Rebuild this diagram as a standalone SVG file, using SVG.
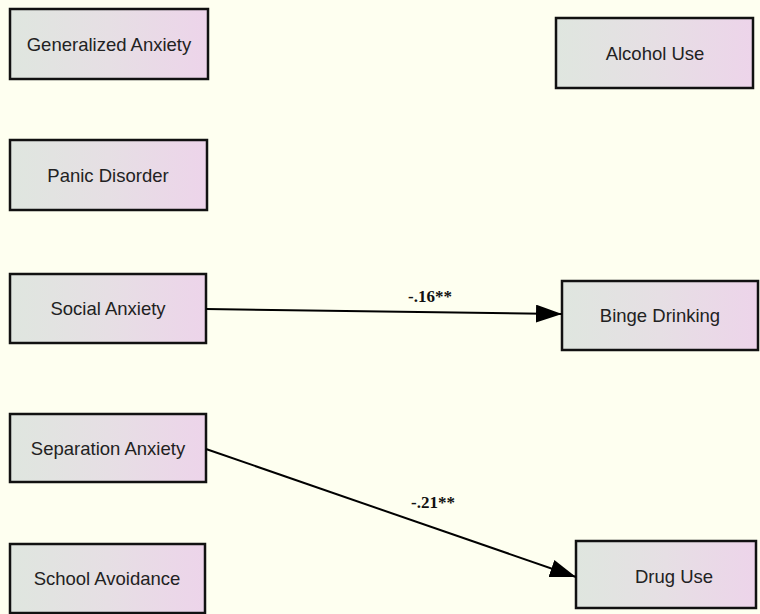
<svg xmlns="http://www.w3.org/2000/svg" width="760" height="614" viewBox="0 0 760 614">
<defs>
<linearGradient id="g" x1="0" y1="0" x2="1" y2="0">
<stop offset="0" stop-color="#dfe6df"/>
<stop offset="0.5" stop-color="#e6dfe4"/>
<stop offset="1" stop-color="#edd4ea"/>
</linearGradient>
<marker id="ah" markerWidth="26" markerHeight="18" refX="26" refY="9" orient="auto" markerUnits="userSpaceOnUse">
<path d="M0,0 L26,9 L0,18 Z" fill="#000"/>
</marker>
<style>
.box{fill:url(#g);stroke:#111;stroke-width:2.5}
.t{font-family:"Liberation Sans",Arial,sans-serif;font-size:18.5px;fill:#222;text-anchor:middle}
.lbl{font-family:"Liberation Serif","Times New Roman",serif;font-size:17px;font-weight:bold;fill:#111}
.c{stroke:#000;stroke-width:2;fill:none}
</style>
</defs>
<rect width="760" height="614" fill="#fefff0"/>
<g id="generalized-anxiety"><rect class="box" x="10" y="9" width="198" height="70"/><text class="t" x="109" y="51">Generalized Anxiety</text></g>
<g id="panic-disorder"><rect class="box" x="10" y="140" width="197" height="70"/><text class="t" x="108" y="182">Panic Disorder</text></g>
<g id="social-anxiety"><rect class="box" x="10" y="274" width="196" height="69"/><text class="t" x="108" y="315">Social Anxiety</text></g>
<g id="separation-anxiety"><rect class="box" x="10" y="414" width="196" height="68"/><text class="t" x="108" y="455">Separation Anxiety</text></g>
<g id="school-avoidance"><rect class="box" x="10" y="544" width="195" height="69"/><text class="t" x="107" y="585">School Avoidance</text></g>
<g id="alcohol-use"><rect class="box" x="556" y="18" width="197" height="70"/><text class="t" x="655" y="60">Alcohol Use</text></g>
<g id="binge-drinking"><rect class="box" x="562" y="281" width="196" height="69"/><text class="t" x="660" y="322">Binge Drinking</text></g>
<g id="drug-use"><rect class="box" x="576" y="541" width="180" height="67"/><text class="t" x="674" y="583">Drug Use</text></g>
<g id="connectors">
<line class="c" x1="206" y1="309" x2="562" y2="314" marker-end="url(#ah)"/>
<line class="c" x1="206" y1="449" x2="576" y2="577" marker-end="url(#ah)"/>
<text class="lbl" x="408" y="302">-.16**</text>
<text class="lbl" x="411" y="508">-.21**</text>
</g>
</svg>
